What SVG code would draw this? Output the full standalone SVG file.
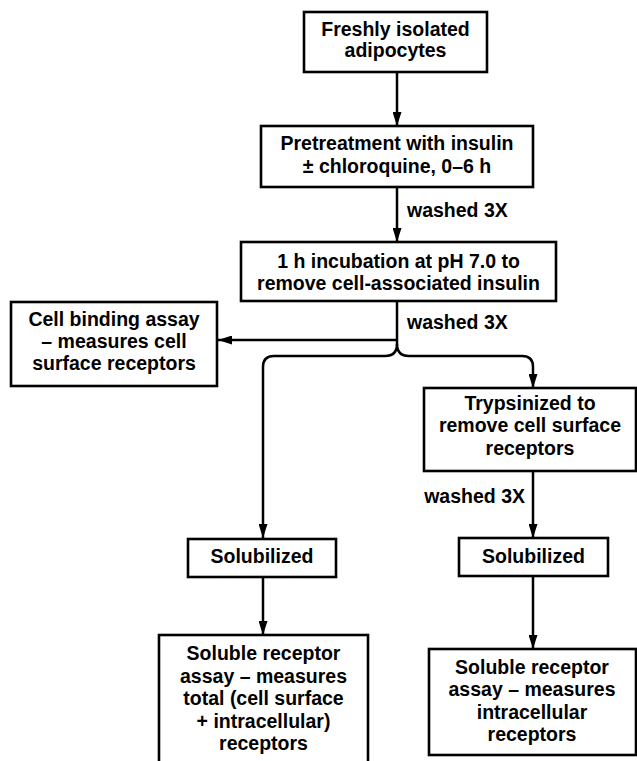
<svg xmlns="http://www.w3.org/2000/svg" width="637" height="761" viewBox="0 0 637 761">
<style>
  .box { fill: #ffffff; stroke: #000; stroke-width: 2.6; }
  .t { font-family: "Liberation Sans", Arial, sans-serif; font-weight: bold; font-size: 19.5px; fill: #000; text-anchor: middle; }
  .lbl { font-family: "Liberation Sans", Arial, sans-serif; font-weight: bold; font-size: 19.5px; fill: #000; }
  .ln { fill: none; stroke: #000; stroke-width: 2.5; }
</style>
<defs>
  <marker id="ah" viewBox="0 0 14 9" refX="14" refY="4.5" markerWidth="14" markerHeight="9" markerUnits="userSpaceOnUse" orient="auto">
    <path d="M0,0 L14,4.5 L0,9 Z" fill="#000"/>
  </marker>
</defs>
<rect width="637" height="761" fill="#fff"/>

<g id="connectors">
  <path class="ln" d="M397,72 V126" marker-end="url(#ah)"/>
  <path class="ln" d="M397,187 V242" marker-end="url(#ah)"/>
  <path class="ln" d="M397,301 V344"/>
  <path class="ln" d="M397,340 H218" marker-end="url(#ah)"/>
  <path class="ln" d="M397,344 Q397,356 385,356 H274 Q263,356 263,367 V538" marker-end="url(#ah)"/>
  <path class="ln" d="M397,344 Q397,356 409,356 H522 Q533,356 533,367 V388" marker-end="url(#ah)"/>
  <path class="ln" d="M533,471 V538" marker-end="url(#ah)"/>
  <path class="ln" d="M263,577 V635" marker-end="url(#ah)"/>
  <path class="ln" d="M533,576 V649" marker-end="url(#ah)"/>
  <text class="lbl" x="407" y="217">washed 3X</text>
  <text class="lbl" x="407" y="329">washed 3X</text>
  <text class="lbl" x="525" y="503" text-anchor="end">washed 3X</text>
</g>

<g id="n1">
  <rect class="box" x="304" y="12" width="183" height="60"/>
  <text class="t" x="395.5" y="36">Freshly isolated</text>
  <text class="t" x="395.5" y="57">adipocytes</text>
</g>

<g id="n2">
  <rect class="box" x="261" y="126" width="272" height="61"/>
  <text class="t" x="397" y="150">Pretreatment with insulin</text>
  <text class="t" x="397" y="173">± chloroquine, 0–6 h</text>
</g>

<g id="n3">
  <rect class="box" x="241" y="242" width="315" height="59"/>
  <text class="t" x="398.5" y="268">1 h incubation at pH 7.0 to</text>
  <text class="t" x="398.5" y="290">remove cell-associated insulin</text>
</g>

<g id="n4">
  <rect class="box" x="11" y="302" width="206" height="84"/>
  <text class="t" x="114" y="326">Cell binding assay</text>
  <text class="t" x="114" y="348">– measures cell</text>
  <text class="t" x="114" y="370">surface receptors</text>
</g>

<g id="n5">
  <rect class="box" x="424" y="388" width="212" height="83"/>
  <text class="t" x="530" y="410">Trypsinized to</text>
  <text class="t" x="530" y="432">remove cell surface</text>
  <text class="t" x="530" y="455">receptors</text>
</g>

<g id="n6">
  <rect class="box" x="188" y="539" width="148" height="38"/>
  <text class="t" x="262" y="563">Solubilized</text>
</g>

<g id="n7">
  <rect class="box" x="459" y="538" width="149" height="38"/>
  <text class="t" x="533.5" y="563">Solubilized</text>
</g>

<g id="n8">
  <rect class="box" x="159" y="635" width="209" height="140"/>
  <text class="t" x="263.5" y="660">Soluble receptor</text>
  <text class="t" x="263.5" y="683">assay – measures</text>
  <text class="t" x="263.5" y="705">total (cell surface</text>
  <text class="t" x="263.5" y="728">+ intracellular)</text>
  <text class="t" x="263.5" y="750">receptors</text>
</g>

<g id="n9">
  <rect class="box" x="429" y="649" width="207" height="106"/>
  <text class="t" x="532" y="674">Soluble receptor</text>
  <text class="t" x="532" y="696">assay – measures</text>
  <text class="t" x="532" y="719">intracellular</text>
  <text class="t" x="532" y="741">receptors</text>
</g>
</svg>
